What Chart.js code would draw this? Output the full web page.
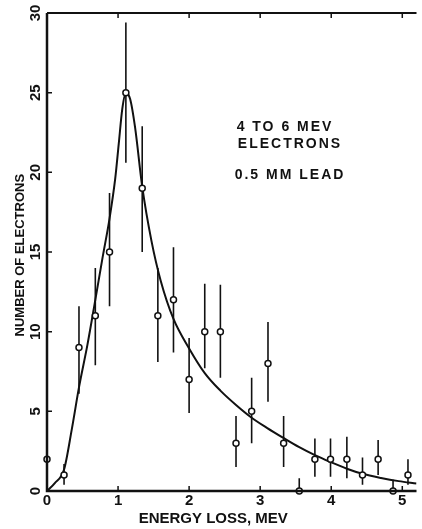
<!DOCTYPE html>
<html>
<head>
<meta charset="utf-8">
<script src="https://cdn.jsdelivr.net/npm/chart.js@4"></script>
<style>
  html, body { margin: 0; padding: 0; background: #fff; }
  #wrap { width: 422px; height: 529px; position: relative; }
</style>
</head>
<body>
<div id="wrap"><canvas id="chart"></canvas></div>
<script>
// measured points: energy loss (MeV) and counts, with error bar ends
const energy  = [0, 0.24, 0.45, 0.68, 0.88, 1.11, 1.34, 1.56, 1.78, 2.0, 2.22, 2.44, 2.66, 2.88, 3.11, 3.33, 3.55, 3.77, 3.99, 4.22, 4.44, 4.66, 4.87, 5.08];
const counts  = [2, 1, 9, 11, 15, 25, 19, 11, 12, 7, 10, 10, 3, 5, 8, 3, 0, 2, 2, 2, 1, 2, 0, 1];
const errLow  = [2, 0.4, 6.1, 7.9, 11.6, 20.6, 15.0, 8.1, 8.7, 4.9, 7.7, 7.1, 1.5, 3.0, 5.6, 1.5, 0, 0.9, 0.9, 0.8, 0.4, 1.0, 0, 0.4];
const errHigh = [2, 1.7, 11.6, 14.0, 18.7, 29.4, 22.9, 14.0, 15.3, 9.6, 13.0, 12.95, 4.7, 7.1, 10.6, 4.7, 0.8, 3.3, 3.3, 3.4, 2.1, 3.2, 0.7, 2.0];

// smooth fitted curve
const curveEnergy = [0, 0.11, 0.24, 0.35, 0.45, 0.57, 0.68, 0.78, 0.88, 0.96, 1.01, 1.06, 1.11, 1.17, 1.24, 1.34, 1.47, 1.60, 1.78, 2.0, 2.22, 2.44, 2.66, 2.88, 3.1, 3.32, 3.55, 3.77, 4.0, 4.22, 4.44, 4.7, 4.95, 5.2];
const curveCounts = [0, 0.5, 1.35, 3.9, 6.5, 9.2, 12.0, 14.6, 17.1, 19.6, 21.8, 24.0, 25.0, 24.6, 22.8, 19.1, 15.7, 13.2, 10.8, 8.95, 7.4, 6.3, 5.4, 4.6, 3.95, 3.35, 2.75, 2.25, 1.8, 1.4, 1.08, 0.82, 0.62, 0.47];

const xTicks = [0, 1, 2, 3, 4, 5];
const yTicks = [0, 5, 10, 15, 20, 25, 30];
const noteLines = ["4 TO 6 MEV", "ELECTRONS", "0.5 MM LEAD"];
const xTitle = "ENERGY LOSS, MEV";
const yTitle = "NUMBER OF ELECTRONS";

const pointData = energy.map((e, i) => ({ x: e, y: counts[i] }));
const barData = [];
energy.forEach((e, i) => {
    barData.push({ x: e, y: errLow[i] }, { x: e, y: errHigh[i] }, { x: e, y: null });
});
const curveData = curveEnergy.map((e, i) => ({ x: e, y: curveCounts[i] }));

const FONT = '"Liberation Sans", Arial, sans-serif';

// axes, inward ticks, labels and note, drawn against the chart scales
const frame = {
    id: "frame",
    beforeDraw(chart) {
        const ctx = chart.ctx;
        ctx.save();
        ctx.fillStyle = "#fff";
        ctx.fillRect(0, 0, chart.width, chart.height);
        ctx.restore();
    },
    afterDraw(chart) {
        const ctx = chart.ctx;
        const a = chart.chartArea;
        const xs = chart.scales.x, ys = chart.scales.y;
        ctx.save();
        ctx.strokeStyle = "#111";
        ctx.lineCap = "butt";

        // frame lines
        ctx.lineWidth = 2.5;
        ctx.beginPath();
        ctx.moveTo(a.left, a.top);
        ctx.lineTo(a.left, a.bottom);
        ctx.lineTo(a.right, a.bottom);
        ctx.stroke();
        ctx.lineWidth = 2;
        ctx.beginPath();
        ctx.moveTo(a.left, a.top);
        ctx.lineTo(a.right, a.top);
        ctx.stroke();

        // inward ticks
        ctx.lineWidth = 1.5;
        ctx.beginPath();
        xTicks.forEach(v => {
            if (v === 0) return;
            const px = xs.getPixelForValue(v);
            ctx.moveTo(px, a.bottom); ctx.lineTo(px, a.bottom - 5);
            ctx.moveTo(px, a.top); ctx.lineTo(px, a.top + 5);
        });
        yTicks.forEach(v => {
            if (v === 0 || v === 30) return;
            const py = ys.getPixelForValue(v);
            ctx.moveTo(a.left, py); ctx.lineTo(a.left + 5, py);
        });
        ctx.stroke();

        ctx.fillStyle = "#111";
        ctx.font = "bold 15px " + FONT;
        ctx.textAlign = "center";
        ctx.textBaseline = "middle";
        xTicks.forEach(v => {
            ctx.fillText(String(v), xs.getPixelForValue(v), a.bottom + 10);
        });
        yTicks.forEach(v => {
            ctx.save();
            ctx.translate(a.left - 11, ys.getPixelForValue(v));
            ctx.rotate(-Math.PI / 2);
            ctx.fillText(String(v), 0, 0);
            ctx.restore();
        });

        // axis titles
        ctx.font = "bold 15px " + FONT;
        ctx.fillText(xTitle, xs.getPixelForValue(2.34), a.bottom + 28);
        ctx.save();
        ctx.translate(a.left - 27, ys.getPixelForValue(14.8));
        ctx.rotate(-Math.PI / 2);
        ctx.font = "bold 13px " + FONT;
        ctx.fillText(yTitle, 0, 0);
        ctx.restore();

        // note
        ctx.font = "bold 14px " + FONT;
        if ("letterSpacing" in ctx) ctx.letterSpacing = "2px";
        const noteX = xs.getPixelForValue(3.42);
        ctx.fillText(noteLines[0], noteX - 5, ys.getPixelForValue(22.85));
        ctx.fillText(noteLines[1], noteX, ys.getPixelForValue(21.8));
        ctx.fillText(noteLines[2], noteX, ys.getPixelForValue(19.85));
        ctx.restore();
    }
};

new Chart(document.getElementById("chart"), {
    type: "scatter",
    data: {
        datasets: [
            {
                label: "measured",
                data: pointData,
                pointStyle: "circle",
                pointRadius: 3,
                pointBorderWidth: 1.5,
                pointBackgroundColor: "#fff",
                pointBorderColor: "#111",
                showLine: false,
                clip: 8
            },
            {
                label: "errors",
                data: barData,
                showLine: true,
                spanGaps: false,
                borderColor: "#111",
                borderWidth: 1.6,
                pointRadius: 0,
                clip: 4
            },
            {
                label: "curve",
                data: curveData,
                showLine: true,
                borderColor: "#111",
                borderWidth: 2,
                pointRadius: 0,
                cubicInterpolationMode: "monotone"
            }
        ]
    },
    options: {
        responsive: true,
        maintainAspectRatio: false,
        animation: false,
        layout: { padding: { left: 0, right: 0, top: 13, bottom: 0 } },
        plugins: {
            legend: { display: false },
            tooltip: { enabled: false }
        },
        scales: {
            x: {
                type: "linear",
                min: 0,
                max: 5.2,
                ticks: { display: false, stepSize: 1 },
                grid: { display: false },
                border: { display: false },
                afterFit(scale) { scale.height = 38; }
            },
            y: {
                type: "linear",
                min: 0,
                max: 30,
                ticks: { display: false, stepSize: 5 },
                grid: { display: false },
                border: { display: false },
                afterFit(scale) { scale.width = 47; }
            }
        }
    },
    plugins: [frame]
});
</script>
</body>
</html>
